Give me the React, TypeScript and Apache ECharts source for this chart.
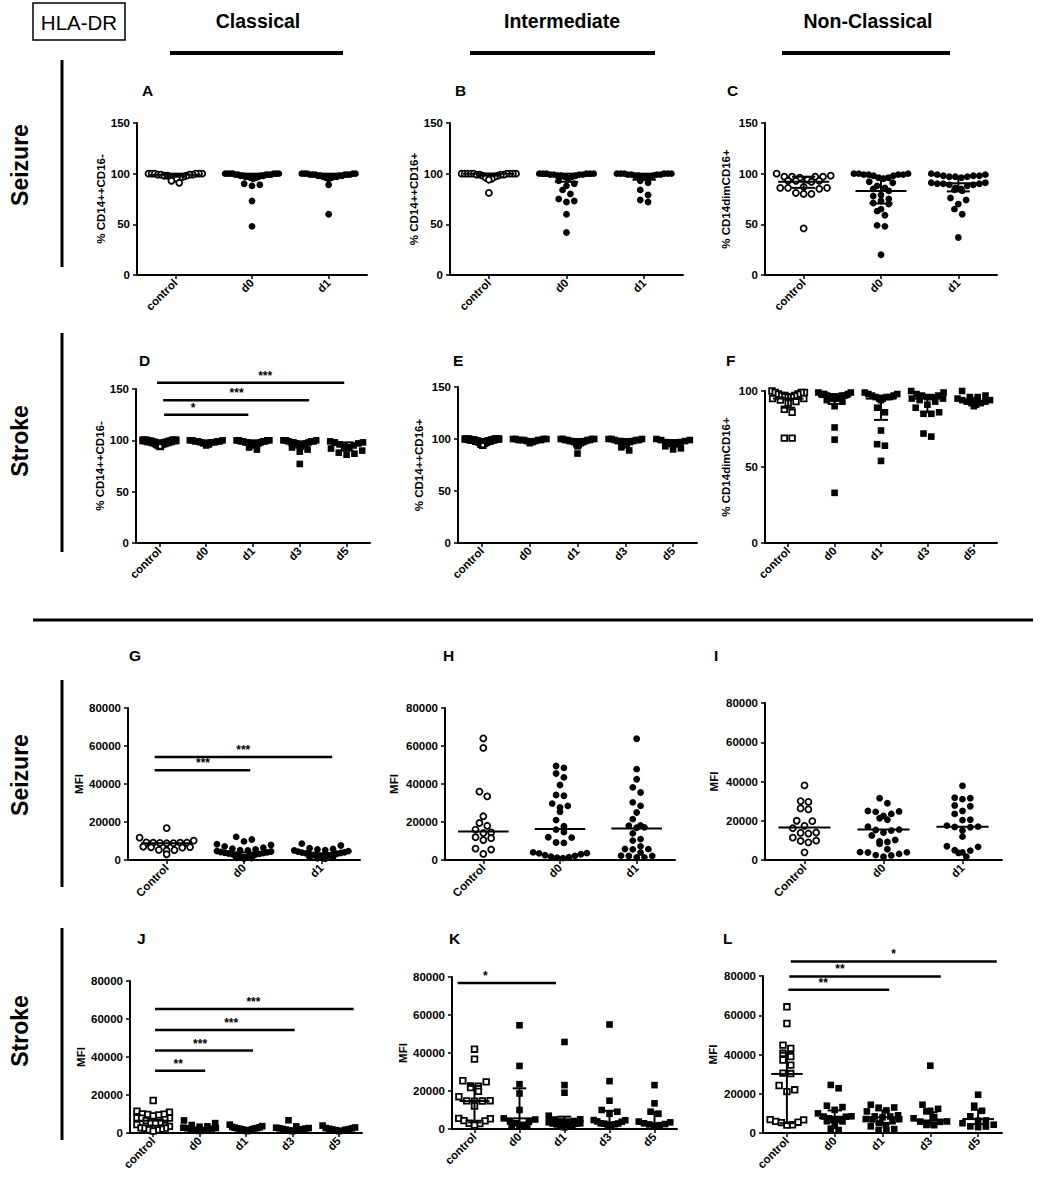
import React, { useEffect, useRef } from "react";
import * as echarts from "echarts";

const FF = '"Liberation Sans", Arial, Helvetica, sans-serif';

// ---------- categories ----------
const catsSeiz = ["control", "d0", "d1"];
const catsSeizMFI = ["Control", "d0", "d1"];
const catsStroke = ["control", "d0", "d1", "d3", "d5"];

// ---------- A ----------
const aControl = [100, 100, 100, 100, 100, 100, 99, 99, 99, 99, 98, 98, 98, 97, 97, 96, 96, 95, 93, 91];
const aD0 = [100, 100, 100, 100, 100, 100, 100, 99, 99, 99, 99, 99, 98, 98, 98, 98, 97, 97, 97, 96, 96, 95, 90, 89, 88, 73, 48];
const aD1 = [100, 100, 100, 100, 100, 99, 99, 99, 99, 99, 99, 98, 98, 98, 98, 97, 97, 97, 96, 96, 95, 89, 60];
const aMed = [99, 99, 99];
const aLo = [97, 97, 97];
const aHi = [100, 100, 100];

// ---------- B ----------
const bControl = [100, 100, 100, 100, 100, 100, 100, 100, 100, 99, 99, 99, 99, 98, 98, 97, 96, 95, 94, 81];
const bD0 = [100, 100, 100, 100, 100, 100, 99, 99, 99, 99, 98, 98, 98, 97, 97, 95, 93, 90, 88, 84, 80, 75, 73, 72, 60, 42];
const bD1 = [100, 100, 100, 100, 100, 100, 99, 99, 99, 99, 98, 98, 98, 97, 97, 96, 93, 91, 84, 79, 74, 72];
const bMed = [100, 98, 99];
const bLo = [98, 92, 94];
const bHi = [100, 100, 100];

// ---------- C ----------
const cControl = [100, 98, 97, 97, 97, 97, 96, 94, 93, 93, 93, 92, 87, 86, 86, 86, 85, 81, 80, 80, 46];
const cD0 = [100, 100, 100, 99, 99, 99, 99, 98, 98, 96, 96, 95, 92, 91, 88, 86, 85, 83, 79, 78, 75, 73, 71, 70, 65, 63, 59, 49, 48, 20];
const cD1 = [100, 99, 99, 98, 98, 98, 97, 97, 97, 96, 91, 91, 90, 90, 90, 89, 89, 88, 86, 85, 84, 83, 76, 74, 70, 65, 60, 37];
const cMed = [92, 83, 90.5];
const cLo = [86, 70.5, 82.5];
const cHi = [97, 97, 97];

// ---------- D ----------
const dControl = [100, 100, 100, 100, 100, 100, 99, 99, 99, 99, 99, 98, 98, 98, 98, 97, 97, 97, 96, 96, 95, 94];
const dD0 = [100, 100, 100, 99, 99, 99, 99, 98, 98, 98, 97, 96, 95];
const dD1 = [100, 100, 100, 100, 99, 99, 99, 99, 98, 98, 98, 97, 97, 96, 96, 95, 93, 91];
const dD3 = [100, 100, 100, 99, 99, 99, 98, 98, 98, 97, 97, 96, 95, 94, 93, 91, 89, 77];
const dD5 = [99, 98, 98, 97, 96, 95, 94, 93, 92, 90, 88, 87, 86];
const dMed = [99, 99, 99, 98, 95.5];
const dLo = [97, 97, 97, 94, 90];
const dHi = [100, 100, 100, 99, 98];
const dSig = [
  [0.1, 1.9, 125, "*", 0.72],
  [0.08, 3.2, 139, "***", 1.65],
  [-0.05, 3.95, 156, "***", 2.26],
];

// ---------- E ----------
const eControl = [100, 100, 100, 100, 100, 100, 99, 99, 99, 99, 99, 98, 98, 98, 98, 97, 97, 96, 95, 94];
const eD0 = [100, 100, 100, 100, 99, 99, 99, 99, 99, 98, 98, 97, 96];
const eD1 = [100, 100, 100, 100, 99, 99, 99, 99, 98, 98, 98, 97, 97, 96, 95, 94, 93, 86];
const eD3 = [100, 100, 100, 99, 99, 99, 98, 98, 98, 97, 96, 94, 92, 89];
const eD5 = [100, 99, 99, 98, 97, 97, 96, 95, 93, 91, 90];
const eMed = [99, 99, 99, 99, 97];
const eLo = [97, 98, 97, 96, 93];
const eHi = [100, 100, 100, 100, 99];

// ---------- F ----------
const fControl = [100, 99, 99, 99, 98, 98, 97, 97, 97, 96, 96, 95, 95, 94, 93, 92, 88, 86, 69, 69];
const fD0 = [99, 99, 98, 98, 98, 97, 97, 97, 96, 96, 95, 95, 94, 93, 90, 76, 68, 33];
const fD1 = [99, 98, 98, 97, 97, 96, 96, 96, 95, 95, 94, 89, 86, 74, 65, 64, 54];
const fD3 = [100, 99, 98, 97, 97, 96, 96, 95, 95, 94, 93, 91, 89, 86, 85, 85, 72, 70];
const fD5 = [100, 97, 96, 96, 95, 94, 94, 93, 93, 92, 92, 91, 90];
const fMed = [95, 96, 95, 95, 93.5];
const fLo = [89, 91.5, 81, 86, 92];
const fHi = [98, 98, 97, 97, 95.5];

// ---------- G ----------
const gControl = [16800, 11800, 10200, 9300, 9200, 9100, 9100, 9000, 8900, 8800, 7000, 6800, 6700, 6500, 5300, 5200, 5000, 3000];
const gD0 = [12200, 10800, 9800, 8300, 7900, 7200, 6500, 6000, 5600, 5200, 5000, 4700, 4500, 4200, 4000, 3800, 3600, 3400, 3200, 3000, 2800, 2600, 2300, 2000, 1800, 1500, 1200, 1000, 800];
const gD1 = [8600, 7600, 6200, 5800, 5500, 5200, 5000, 4700, 4400, 4100, 3900, 3700, 3500, 3300, 3100, 2900, 2700, 2500, 2200, 2000, 1800, 1500, 1200, 900, 600];
const gMed = [8800, 4000, 3500];
const gSig = [
  [-0.155, 1.08, 47250, "***", 0.47],
  [-0.155, 2.14, 54250, "***", 0.99],
];

// ---------- H ----------
const hControl = [64000, 59000, 36000, 33500, 23000, 19500, 18000, 16000, 14500, 14200, 12000, 11500, 10500, 6000, 5500, 3200];
const hD0 = [49500, 48500, 45500, 43500, 39500, 34200, 33800, 29700, 28500, 27600, 25400, 21000, 17800, 16000, 14700, 12000, 11800, 9200, 9000, 4000, 3600, 3500, 3000, 2500, 2200, 1800, 1500, 1200, 1000];
const hD1 = [63800, 47800, 42500, 38200, 35500, 30300, 28500, 25000, 21500, 18200, 18000, 17200, 17000, 14000, 11000, 10200, 7200, 5800, 5700, 5600, 3900, 2300, 2200, 2100, 1400, 1300];
const hMed = [15000, 16300, 16600];

// ---------- I ----------
const iControl = [38000, 30000, 29600, 26300, 25800, 20000, 19800, 17400, 16200, 14000, 13800, 13500, 11400, 9900, 9700, 9000, 3900];
const iD0 = [31500, 28900, 25000, 24700, 24500, 23500, 22500, 21300, 20500, 17000, 15500, 15300, 15000, 14000, 12500, 10200, 9400, 9200, 8200, 5500, 4000, 3900, 3800, 3100, 2500, 2300, 1700];
const iD1 = [37800, 31700, 31500, 31000, 27800, 27400, 25000, 23500, 20500, 20300, 17500, 17000, 16800, 16700, 15000, 11900, 7000, 6700, 5000, 4800, 3900, 3600, 1700];
const iMed = [16500, 15600, 17000];

// ---------- J ----------
const jControl = [17100, 11500, 11000, 10000, 9900, 9800, 9500, 9000, 8000, 7900, 7800, 7000, 6500, 5600, 5500, 5400, 4400, 3500, 2700, 2600, 2500, 2000, 1700, 1600, 1000];
const jD0 = [6600, 5200, 4200, 3500, 3300, 2800, 2600, 2500, 2300, 2100, 2000, 1700, 1400, 1100];
const jD1 = [4400, 3600, 3200, 3000, 2800, 2600, 2500, 2400, 2200, 2000, 1900, 1600, 1400, 1000];
const jD3 = [6700, 3500, 2800, 2600, 2500, 2300, 2100, 2000, 1800, 1600, 1400, 1200, 1000];
const jD5 = [3900, 2900, 2600, 2400, 2200, 2000, 1900, 1700, 1500, 1200, 1000];
const jMed = [6500, 2600, 2500, 2100, 2000];
const jSig = [
  [0.04, 1.12, 32700, "**", 0.54],
  [0.04, 2.15, 43400, "***", 1.01],
  [0.04, 3.05, 54250, "***", 1.68],
  [0.04, 4.32, 65300, "***", 2.16],
];

// ---------- K ----------
const kControl = [42000, 36800, 25400, 24800, 22700, 22500, 21800, 19800, 17000, 14900, 14800, 14700, 14600, 12100, 5600, 5400, 4400, 4300, 3000, 2900, 2600, 2100];
const kD0 = [54600, 33200, 23600, 18700, 10000, 5600, 5000, 3900, 3800, 3000, 2200, 2100, 2000, 1800];
const kD1 = [45800, 23100, 19100, 7000, 5100, 5000, 4200, 4000, 3900, 3500, 3000, 2900, 2800, 2400, 2000, 1300, 1200, 900];
const kD3 = [55000, 25200, 14900, 10000, 9100, 8000, 4700, 4600, 4000, 3800, 3000, 2900, 2800, 2500, 2300, 2000];
const kD5 = [23100, 13500, 9100, 8000, 3900, 3500, 3000, 2600, 2400, 2000, 1500];
const kMed = [14700, 5600, 3300, 3000, 3000];
const kLo = [3500, 2500, 2200, 2500, 2000];
const kHi = [22700, 21400, 6500, 9600, 9100];
const kSig = [[-0.375, 1.81, 76800, "*", 0.24]];

// ---------- L ----------
const lControl = [64300, 55800, 44800, 43100, 40600, 38900, 37200, 34600, 30500, 30300, 24200, 22000, 21100, 6800, 6700, 5900, 5500, 5300, 4200, 4000];
const lD0 = [24500, 22800, 13900, 13200, 11800, 10000, 8500, 8400, 8300, 7500, 7100, 7000, 6000, 5900, 3700, 2200, 1500];
const lD1 = [14400, 13000, 12900, 11500, 11000, 9000, 8500, 8400, 8000, 7100, 7000, 6900, 6000, 5100, 4000, 3400, 2000, 1500, 1400];
const lD3 = [34300, 14400, 12300, 11300, 11000, 8000, 7500, 5900, 5800, 5700, 4500, 4200, 4100, 4000];
const lD5 = [19500, 13900, 11300, 8500, 6400, 6300, 5000, 4200, 3400, 3300, 3000];
const lMed = [30100, 7600, 8000, 6400, 7100];
const lLo = [5000, 5500, 4500, 4500, 4500];
const lHi = [40900, 11500, 11500, 10500, 11800];
const lSig = [
  [0.03, 2.14, 73000, "**", 0.76],
  [0.05, 3.22, 79800, "**", 1.11],
  [0.08, 4.39, 87400, "*", 2.23],
];

const pctTicks = { max: 150, step: 50 };
const mfiTicks = { max: 80000, step: 20000 };

const panels = [
  { id: "A", cats: catsSeiz, groups: [aControl, aD0, aD1], med: aMed, lo: aLo, hi: aHi, y: pctTicks, name: "% CD14++CD16-", shape: "circle", sig: [], dense: false },
  { id: "B", cats: catsSeiz, groups: [bControl, bD0, bD1], med: bMed, lo: bLo, hi: bHi, y: pctTicks, name: "% CD14++CD16+", shape: "circle", sig: [], dense: false },
  { id: "C", cats: catsSeiz, groups: [cControl, cD0, cD1], med: cMed, lo: cLo, hi: cHi, y: pctTicks, name: "% CD14dimCD16+", shape: "circle", sig: [], dense: false },
  { id: "D", cats: catsStroke, groups: [dControl, dD0, dD1, dD3, dD5], med: dMed, lo: dLo, hi: dHi, y: pctTicks, name: "% CD14++CD16-", shape: "rect", sig: dSig, dense: true },
  { id: "E", cats: catsStroke, groups: [eControl, eD0, eD1, eD3, eD5], med: eMed, lo: eLo, hi: eHi, y: pctTicks, name: "% CD14++CD16+", shape: "rect", sig: [], dense: true },
  { id: "F", cats: catsStroke, groups: [fControl, fD0, fD1, fD3, fD5], med: fMed, lo: fLo, hi: fHi, y: { max: 100, step: 50 }, name: "% CD14dimCD16+", shape: "rect", sig: [], dense: false },
  { id: "G", cats: catsSeizMFI, groups: [gControl, gD0, gD1], med: gMed, lo: gMed, hi: gMed, y: mfiTicks, name: "MFI", shape: "circle", sig: gSig, dense: false },
  { id: "H", cats: catsSeizMFI, groups: [hControl, hD0, hD1], med: hMed, lo: hMed, hi: hMed, y: mfiTicks, name: "MFI", shape: "circle", sig: [], dense: false },
  { id: "I", cats: catsSeizMFI, groups: [iControl, iD0, iD1], med: iMed, lo: iMed, hi: iMed, y: mfiTicks, name: "MFI", shape: "circle", sig: [], dense: false },
  { id: "J", cats: catsStroke, groups: [jControl, jD0, jD1, jD3, jD5], med: jMed, lo: jMed, hi: jMed, y: mfiTicks, name: "MFI", shape: "rect", sig: jSig, dense: false },
  { id: "K", cats: catsStroke, groups: [kControl, kD0, kD1, kD3, kD5], med: kMed, lo: kLo, hi: kHi, y: mfiTicks, name: "MFI", shape: "rect", sig: kSig, dense: false },
  { id: "L", cats: catsStroke, groups: [lControl, lD0, lD1, lD3, lD5], med: lMed, lo: lLo, hi: lHi, y: mfiTicks, name: "MFI", shape: "rect", sig: lSig, dense: false },
];

// layout (pixels)
const LAYOUT: Record<string, any> = {
  A: { l: 137, t: 123, r: 367, b: 275, gap: 30, lx: 142, ly: 90 },
  B: { l: 450, t: 123, r: 683, b: 275, gap: 30, lx: 455, ly: 90 },
  C: { l: 765, t: 123, r: 997, b: 275, gap: 33, lx: 727, ly: 90 },
  D: { l: 136, t: 389, r: 370, b: 543, gap: 28, lx: 139, ly: 360 },
  E: { l: 458, t: 387, r: 697, b: 543, gap: 33, lx: 453, ly: 360 },
  F: { l: 765, t: 391, r: 997, b: 543, gap: 33, lx: 726, ly: 360 },
  G: { l: 128, t: 708, r: 360, b: 860, gap: 41, lx: 129, ly: 655 },
  H: { l: 445, t: 708, r: 675, b: 860, gap: 45, lx: 443, ly: 655 },
  I: { l: 765, t: 703, r: 1002, b: 860, gap: 45, lx: 714, ly: 655 },
  J: { l: 130, t: 981, r: 362, b: 1133, gap: 41, lx: 137, ly: 938 },
  K: { l: 452, t: 977, r: 677, b: 1129, gap: 40, lx: 449, ly: 938 },
  L: { l: 763, t: 976, r: 1002, b: 1133, gap: 44, lx: 723, ly: 938 },
};

// dot-plot layout: rows of near-equal values spread horizontally (offsets in category units)
function swarm(vals: number[], pxPerUnit: number, pxPerCat: number, size: number) {
  const idx = vals.map((_, i) => i).sort((a, b) => vals[b] - vals[a]);
  const off = new Array(vals.length).fill(0);
  let i = 0;
  while (i < idx.length) {
    const start = vals[idx[i]];
    let j = i;
    while (j < idx.length && (start - vals[idx[j]]) * pxPerUnit < size * 0.95) j++;
    const k = j - i;
    let sp = size + 0.8;
    const maxW = pxPerCat * 0.7;
    if (k > 1 && (k - 1) * sp > maxW) sp = maxW / (k - 1);
    const slots: number[] = [];
    for (let m = 0; m < k; m++) slots.push((m - (k - 1) / 2) * sp);
    let left = 0, right = k - 1;
    for (let m = 0; m < k; m++) {
      const s = m % 2 === 0 ? slots[left++] : slots[right--];
      off[idx[i + m]] = s / pxPerCat;
    }
    i = j;
  }
  return off;
}

const black = "#000";

function buildOption() {
  const grid: any[] = [];
  const xAxis: any[] = [];
  const yAxis: any[] = [];
  const series: any[] = [];
  const graphic: any[] = [];

  panels.forEach((p, pi) => {
    const L = LAYOUT[p.id];
    const w = L.r - L.l;
    const h = L.b - L.t;
    const n = p.cats.length;
    grid.push({ left: L.l, top: L.t, width: w, height: h, containLabel: false });
    const ticks = p.cats.map((_, k) => k);
    xAxis.push({
      type: "value",
      gridIndex: pi,
      min: -0.5,
      max: n - 0.5,
      axisLine: { show: true, onZero: false, lineStyle: { color: black, width: 2 } },
      axisTick: { show: true, customValues: ticks, length: 4, lineStyle: { color: black, width: 1.5 } },
      axisLabel: {
        show: true,
        customValues: ticks,
        formatter: (v: number) => p.cats[Math.round(v)] ?? "",
        rotate: 45,
        margin: 6,
        color: black,
        fontWeight: "bold",
        fontSize: 11.5,
        fontFamily: FF,
      },
      splitLine: { show: false },
    });
    yAxis.push({
      type: "value",
      gridIndex: pi,
      min: 0,
      max: p.y.max,
      interval: p.y.step,
      axisLine: { show: true, onZero: false, lineStyle: { color: black, width: 2 } },
      axisTick: { show: true, length: 4, lineStyle: { color: black, width: 1.5 } },
      axisLabel: {
        color: black,
        fontWeight: "bold",
        fontSize: 11.5,
        fontFamily: FF,
        margin: 7,
        formatter: (v: number) => String(v),
      },
      splitLine: { show: false },
      name: p.name,
      nameLocation: "middle",
      nameGap: L.gap,
      nameTextStyle: { color: black, fontWeight: "bold", fontSize: 11.5, fontFamily: FF },
    });

    const pxPerUnit = h / p.y.max;
    const pxPerCat = w / n;
    p.groups.forEach((vals, g) => {
      const isControl = g === 0;
      const size = p.shape === "circle" ? (isControl ? 6 : 6.8) : isControl ? (p.dense ? 5 : 5.6) : 6.6;
      const off = swarm(vals, pxPerUnit, pxPerCat, 7);
      series.push({
        type: "scatter",
        xAxisIndex: pi,
        yAxisIndex: pi,
        symbol: p.shape,
        symbolSize: size,
        silent: true,
        z: 2,
        data: vals.map((v, k) => [g + off[k], v]),
        itemStyle: isControl
          ? { color: "#fff", borderColor: black, borderWidth: p.dense ? 2.6 : 1.8, opacity: 1 }
          : { color: black, borderWidth: 0, opacity: 1 },
      });
    });

    // median line with interquartile whiskers
    series.push({
      type: "custom",
      xAxisIndex: pi,
      yAxisIndex: pi,
      silent: true,
      clip: false,
      z: 4,
      data: p.med.map((m, g) => [g, m]),
      renderItem: (params: any, api: any) => {
        const g = params.dataIndex;
        const c = p.med[g], lo = p.lo[g], hi = p.hi[g];
        const seg = (x1: number, y1: number, x2: number, y2: number) => {
          const a = api.coord([x1, y1]);
          const b = api.coord([x2, y2]);
          return { type: "line", shape: { x1: a[0], y1: a[1], x2: b[0], y2: b[1] }, style: { stroke: black, lineWidth: 2 } };
        };
        const children: any[] = [seg(g - 0.33, c, g + 0.33, c)];
        if (hi > lo) {
          children.push(seg(g, lo, g, hi), seg(g - 0.15, lo, g + 0.15, lo), seg(g - 0.15, hi, g + 0.15, hi));
        }
        return { type: "group", children };
      },
    });

    if (p.sig.length) {
      series.push({
        type: "custom",
        xAxisIndex: pi,
        yAxisIndex: pi,
        silent: true,
        clip: false,
        z: 4,
        data: p.sig.map((s: any) => [s[0], s[2]]),
        renderItem: (params: any, api: any) => {
          const s: any = p.sig[params.dataIndex];
          const a = api.coord([s[0], s[2]]);
          const b = api.coord([s[1], s[2]]);
          const t = api.coord([s[4], s[2]]);
          return {
            type: "group",
            children: [
              { type: "line", shape: { x1: a[0], y1: a[1], x2: b[0], y2: b[1] }, style: { stroke: black, lineWidth: 2.5 } },
              {
                type: "text",
                x: t[0],
                y: a[1] - 1,
                style: {
                  text: s[3],
                  fill: black,
                  fontSize: 12,
                  fontWeight: "bold",
                  fontFamily: FF,
                  align: "center",
                  verticalAlign: "bottom",
                  textAlign: "center",
                  textVerticalAlign: "bottom",
                },
              },
            ],
          };
        },
      });
    }

    graphic.push({
      type: "text",
      x: L.lx,
      y: L.ly,
      style: { text: p.id, fill: black, fontSize: 15.5, fontWeight: "bold", fontFamily: FF, textAlign: "left", textVerticalAlign: "middle" },
    });
  });

  // header + side labels
  const hdr = (text: string, cx: number) => ({
    type: "text",
    x: cx,
    y: 21,
    style: { text, fill: black, fontSize: 19.5, fontWeight: "bold", fontFamily: FF, textAlign: "center", textVerticalAlign: "middle" },
  });
  const bar = (x1: number, y1: number, x2: number, y2: number, lw: number) => ({
    type: "line",
    shape: { x1, y1, x2, y2 },
    style: { stroke: black, lineWidth: lw },
  });
  const side = (text: string, cy: number) => ({
    type: "text",
    x: 20,
    y: cy,
    rotation: Math.PI / 2,
    style: { text, fill: black, fontSize: 23, fontWeight: "bold", fontFamily: FF, textAlign: "center", textVerticalAlign: "middle" },
  });

  graphic.push(
    { type: "rect", shape: { x: 33, y: 3, width: 92, height: 37 }, style: { fill: "transparent", stroke: black, lineWidth: 1.5 } },
    { type: "text", x: 79, y: 22, style: { text: "HLA-DR", fill: black, fontSize: 20.5, fontFamily: FF, textAlign: "center", textVerticalAlign: "middle" } },
    hdr("Classical", 258),
    hdr("Intermediate", 562),
    hdr("Non-Classical", 868),
    bar(170, 53, 343, 53, 4),
    bar(470, 53, 655, 53, 4),
    bar(782, 53, 950, 53, 4),
    side("Seizure", 165),
    bar(62, 60, 62, 267, 3),
    side("Stroke", 441),
    bar(62, 333, 62, 552, 3),
    bar(33, 620, 1033, 620, 3),
    side("Seizure", 775),
    bar(62, 680, 62, 887, 3),
    side("Stroke", 1031),
    bar(62, 928, 62, 1140, 3)
  );

  return {
    animation: false,
    backgroundColor: "#fff",
    grid,
    xAxis,
    yAxis,
    series,
    graphic: { elements: graphic },
  };
}

export default function App() {
  const ref = useRef<HTMLDivElement>(null);
  useEffect(() => {
    if (!ref.current) return;
    const chart = echarts.init(ref.current, undefined, { renderer: "svg" });
    chart.setOption(buildOption() as any);
    return () => chart.dispose();
  }, []);
  return (
    <div
      ref={ref}
      style={{ position: "absolute", left: 0, top: 0, width: 1042, height: 1178, background: "#fff" }}
    />
  );
}
